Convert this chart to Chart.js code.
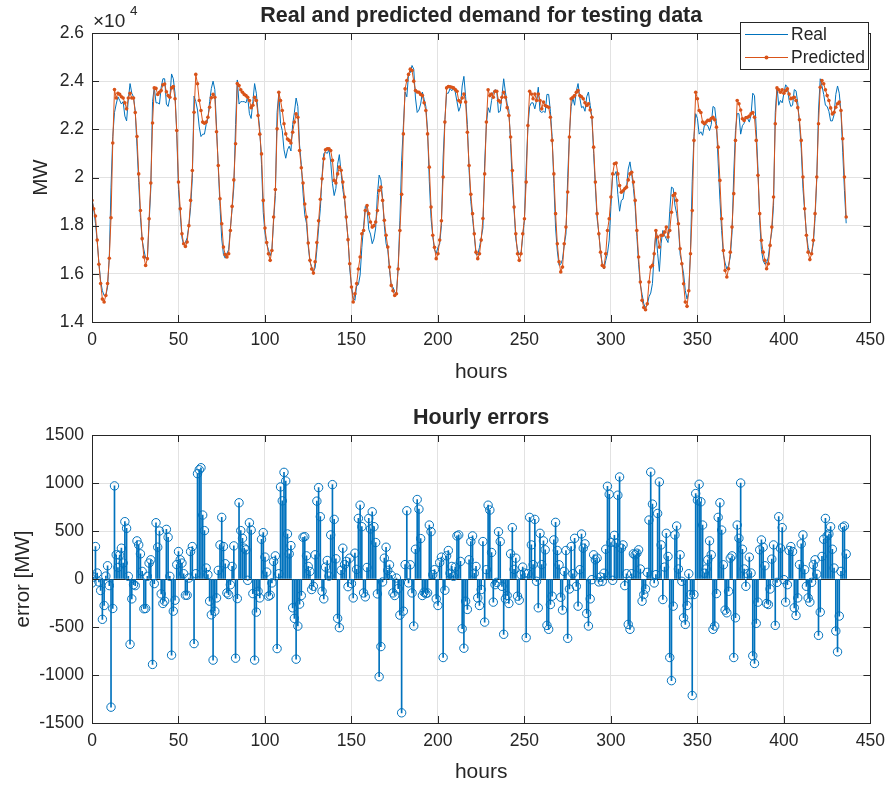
<!DOCTYPE html>
<html>
<head>
<meta charset="utf-8">
<script src="https://cdn.jsdelivr.net/npm/chart.js@4.4.0/dist/chart.umd.min.js"></script>
<style>
  html, body { margin: 0; padding: 0; background: #fff; }
  #wrap { position: relative; width: 893px; height: 785px; }
  canvas { position: absolute; left: 0; top: 0; }
</style>
</head>
<body>
<div id="wrap">
  <canvas id="demandChart" width="893" height="785"></canvas>
  <canvas id="errorChart" width="893" height="785"></canvas>
</div>
<script>
// ======= Data (MW, one value per hour) =======
const realDemand = [
  19100,18700,18100,17350,16450,15700,15300,15100,15100,15450,16700,19600,21700,22700,23050,23350,23200,23050,23150,22550,22350,23250,23900,23500,
  23350,22750,21300,19800,18350,17400,17000,16650,16600,18100,19550,23150,23750,23100,23100,23050,23750,24100,24100,23050,22950,23300,24300,24100,
  23500,21800,19500,18500,17500,17200,17300,17500,18000,18750,19950,23380,23150,22800,22100,21700,21800,21800,22200,22450,23150,23700,24000,23650,
  22100,20400,18800,17450,16800,16650,16850,17000,17900,18700,19600,22200,24050,23050,23150,23150,23150,23100,23350,22650,22450,23150,23900,23500,
  22700,22000,20550,18550,17700,17250,17000,16750,17000,18200,19250,22700,23500,22250,21950,21150,20800,21150,21300,21100,22200,22700,23300,22950,
  21350,20550,19350,18450,18100,17150,16500,16300,16100,16250,17000,17900,18700,20050,21000,21050,21000,21150,20650,19750,19250,19550,20550,20950,
  20200,19500,19050,18200,17500,16200,15500,15000,14900,15500,15550,15950,17100,17950,18800,18700,17850,17650,17250,17450,17900,19300,20100,19900,
  19100,18000,17250,17000,16150,15500,15450,15250,15150,16300,18200,20700,22150,23550,23350,24300,24350,24650,24500,23300,22700,22800,23050,23550,
  23250,22950,21950,19850,18300,17550,17000,16850,17100,17250,18000,20850,22400,23500,23500,23700,23600,23700,23550,23150,22750,22950,23800,24200,
  23350,22200,20300,19000,18300,17600,16800,16800,17100,17500,17900,20600,22200,22900,22700,23200,23550,23650,23600,22700,22750,23400,24100,23550,
  23050,22800,21400,19750,18650,17450,17000,16800,16800,17550,18250,20400,22100,22950,23100,23100,22850,23200,23750,22750,22700,22750,22700,23450,
  23450,22750,21700,19750,17900,16950,16350,16400,16600,17200,17650,20000,21800,22950,23300,23000,23600,23900,23300,22900,22950,22750,23350,23550,
  23000,22500,21000,19600,18300,17700,16900,16400,16200,16550,16850,17400,18800,20150,20100,20250,19300,18600,19050,19100,19600,19550,20350,20650,
  20150,19550,18800,17550,16400,15550,15150,14750,14600,14700,15050,15200,15600,16850,17750,16850,16100,17250,17800,17600,17450,17300,18600,19600,
  19550,18850,18500,18000,16800,16450,16000,15300,14950,15250,17000,19850,21700,22650,22450,21800,21900,21750,22150,22200,22150,21950,22200,22950,
  22900,22250,20600,19100,17800,16800,16450,16200,16350,16700,17700,20150,21950,22650,22650,21800,22150,22250,22550,22450,22300,22600,23500,23400,
  22000,20350,18200,17000,16550,16400,16450,16700,17300,17750,18850,22700,23750,23000,23200,23100,23500,23850,23750,23200,22950,23000,23650,23600,
  23100,22250,21200,19550,18600,17700,17100,16850,16850,17250,18300,19950,22800,24100,23800,23450,23000,22950,22750,22350,22350,22600,23450,23800,
  23500,22700,21050,19450,18100
];

const predictedDemand = [
  19050,18700,18400,17400,16400,15600,14950,14830,15100,15600,16650,18330,21430,23650,23300,23500,23450,23350,23300,23100,22850,23300,23500,23300,
  23300,22700,21700,20150,18630,17460,16700,16350,16630,18290,19770,22260,23720,23700,23450,23540,23610,23850,23880,23560,23400,23330,23720,23780,
  23270,21950,19810,18700,17660,17250,17140,17320,18000,19050,20290,22710,24280,23890,23200,22780,22300,22250,22300,22500,22920,23310,23450,23330,
  21900,20500,19120,18080,17110,16800,16700,16835,17800,18800,19900,21400,23900,23820,23640,23540,23450,23400,23330,23200,22900,23000,23330,23200,
  22575,21800,20980,19050,17900,17300,16835,16560,16970,18360,19500,22020,23540,23200,22780,22230,21810,21600,21540,21430,21880,22300,22640,22500,
  21120,20400,19770,18900,18360,17280,16560,16200,16030,16500,17300,18200,19100,19950,20780,21150,21190,21190,21120,20710,19880,19770,20150,20430,
  20300,19810,19190,18360,17420,16420,15450,14830,15175,15600,16200,16700,17660,17800,18630,18840,18500,18150,17940,18000,18150,18630,19460,19600,
  19050,18220,17600,17110,16280,15520,15300,15100,15175,16200,17800,19300,21810,23680,24030,24280,24500,24440,24000,23610,23550,23540,23450,23400,
  23100,22780,21810,20430,18770,17600,17100,16630,16835,17400,18200,20020,22300,23720,23780,23770,23750,23720,23650,23580,23200,23130,23300,23470,
  23130,21880,20500,19300,18500,17660,16900,16630,16835,17400,18300,20150,22300,23640,23400,23470,23330,23580,23580,23200,23130,23330,23540,23330,
  22900,22575,21680,20290,18770,17660,16835,16560,16835,17660,18290,19810,22160,23580,23470,23270,23470,23200,23470,23200,22850,23130,22990,22950,
  22920,22500,21540,20150,18500,17250,16500,16080,16280,17250,17940,19400,21680,23270,23330,23400,23540,23610,23400,23350,23270,23100,22990,23060,
  22800,22500,21260,19810,18500,17660,16900,16350,16280,16835,17800,18290,19190,20150,20570,20600,20150,19670,19390,19450,19530,19600,19900,20150,
  20220,19810,19050,17800,16700,15660,14900,14600,14510,14760,15660,16280,16350,16835,17800,17530,17110,17600,17600,17730,17940,17530,17800,18560,
  19250,19330,19050,18080,17040,16420,15590,14830,14650,15300,16835,18630,21540,23540,23270,22780,22700,22300,22230,22300,22370,22370,22450,22500,
  22400,22090,21260,19880,18290,16970,16140,15870,16210,16900,17940,19330,21540,23200,23060,22800,22440,22370,22480,22500,22550,22650,22700,22500,
  21540,20090,18500,17390,16900,16560,16210,16420,17180,17940,19190,22230,23720,23640,23540,23640,23500,23600,23680,23470,23270,23300,23330,23200,
  22900,22400,21540,20020,18700,17600,16900,16590,16835,17390,18500,20020,22230,23750,24030,23890,23640,23400,23200,22890,22640,22710,22920,23060,
  23130,22780,21610,20020,18360
];

const hourlyErrors = [
  -41, 20, 338, 62, -30, -120, -420, -276, 30, 138,
  -69, -1335, -307, 970, 252, 120, 248, 321, 166, 597,
  528, 28, -680, -207, -59, -69, 397, 355, 262, 79,
  -310, -307, 28, 166, 200, -890, -48, 586, 331, 500,
  -155, -255, -231, 517, 435, 28, -793, -335, -221, 150,
  286, 200, 166, 55, -169, -169, 10, 286, 338, -673,
  55, 1097, 1138, 1159, 666, 504, 114, 45, -231, -373,
  -845, -335, -197, 90, 355, 642, 338, 159, -145, -162,
  -60, 131, 345, -825, -204, 794, 504, 424, 321, 304,
  -14, 586, 510, -152, -845, -345, -128, -197, 414, 483,
  228, 72, -179, -169, -41, 183, 241, -725, 55, 959,
  814, 1111, 1021, 469, 262, 348, -300, -410, -835, -490,
  -262, -172, 435, 441, 241, 131, 79, -110, -76, 252,
  811, 952, 649, -128, -207, 124, 193, 30, 459, 983,
  621, 210, -410, -507, 90, 321, 150, 183, -80, 217,
  -48, -197, 269, 100, 631, 769, 545, -145, -186, 120,
  631, 521, 700, 545, 380, -155, -1018, -704, -31, 217,
  331, 90, 148, 38, -145, -172, 10, -100, -376, -1394,
  -335, 150, 711, -41, 148, -145, -490, 310, 828, 728,
  421, -172, -138, -152, -145, 562, 493, 45, 97, -207,
  -276, 172, 228, -818, -117, 241, 297, 60, 131, 28,
  124, 449, 459, 183, -518, -721, -231, -317, 200, 390,
  449, 60, 131, -197, -276, -110, 390, -449, 97, 769,
  718, 276, -241, -59, -35, 493, 390, -76, -576, -207,
  -172, -255, 262, 535, 100, 217, -179, -221, 45, 124,
  62, -611, 55, 642, 355, 150, 621, -24, -300, 476,
  150, 397, 304, -483, -524, -266, -179, 407, 590, 297,
  148, -190, -324, 79, 297, -618, -104, 338, 55, 424,
  -76, -283, 97, 469, 321, 366, -359, -490, -207, -7,
  252, 200, 217, -30, 20, -25, 60, 310, 966, 883,
  380, -14, 455, 373, 873, 1063, 321, 355, -69, 55,
  -473, -524, 55, 262, 252, 269, 304, 104, -231, -162,
  -104, 69, 614, 1114, 780, -41, 45, 683, 1011, 355,
  -214, 124, 476, 235, -818, -1059, -283, 459, 552, 104,
  252, -24, -404, -473, -276, 55, -162, -1214, -162, 890,
  821, 987, 804, 562, 60, 104, 200, 397, 252, -524,
  -490, -152, 642, 794, 510, 148, -324, -352, -128, 217,
  241, -818, -404, 562, 424, 1000, 310, 104, -76, 55,
  228, 62, -800, -880, -462, -241, 304, 407, 331, 138,
  -255, -266, -104, 207, 355, -483, -35, 649, 321, 535,
  -7, -241, -59, 297, 338, 286, -300, -380, -197, 150,
  366, 459, 97, -76, -197, -241, -35, 148, 200, 50,
  -587, -345, 235, 414, 631, 449, 469, 545, 310, 114,
  -542, -759, -386, 79, 538, 552, 260
];

// hour index of every sample (0 .. 436)
const hours = realDemand.map((_, i) => i);

// ======= Tick positions =======
const hourTicks = [0, 50, 100, 150, 200, 250, 300, 350, 400, 450];
const demandTicks = [14000, 16000, 18000, 20000, 22000, 24000, 26000];
const errorTicks = [-1500, -1000, -500, 0, 500, 1000, 1500];

// ======= Look =======
const INK = '#262626';
const GRID = '#e2e2e2';
const BLUE = '#0072BD';
const ORANGE = '#D95319';
const FONT = '"Liberation Sans", Arial, Helvetica, sans-serif';
const TICK_FONT = { family: FONT, size: 17.5 };

function drawText(ctx, str, x, y, size, opts = {}) {
    ctx.save();
    ctx.fillStyle = INK;
    ctx.font = `${opts.bold ? 'bold ' : ''}${size}px ${FONT}`;
    ctx.textAlign = opts.align || 'center';
    ctx.textBaseline = opts.baseline || 'middle';
    ctx.translate(x, y);
    if (opts.rotate) ctx.rotate(opts.rotate);
    ctx.fillText(str, 0, 0);
    ctx.restore();
}

// ======= MATLAB-like axes: box, inward ticks, title and labels =======
function axesDecor(cfg) {
    return {
        id: 'axesDecor',
        afterDraw(chart) {
            const { ctx, chartArea: a, scales } = chart;
            const tl = 7;
            ctx.save();
            ctx.strokeStyle = INK;
            ctx.lineWidth = 1;
            ctx.beginPath();
            scales.x.ticks.forEach(t => {
                const px = Math.round(scales.x.getPixelForValue(t.value)) + 0.5;
                ctx.moveTo(px, a.bottom); ctx.lineTo(px, a.bottom - tl);
                ctx.moveTo(px, a.top); ctx.lineTo(px, a.top + tl);
            });
            scales.y.ticks.forEach(t => {
                const py = Math.round(scales.y.getPixelForValue(t.value)) + 0.5;
                ctx.moveTo(a.left, py); ctx.lineTo(a.left + tl, py);
                ctx.moveTo(a.right, py); ctx.lineTo(a.right - tl, py);
            });
            ctx.stroke();
            ctx.strokeRect(Math.round(a.left) + 0.5, Math.round(a.top) + 0.5,
                Math.round(a.right - a.left), Math.round(a.bottom - a.top));
            ctx.restore();

            const cx = (a.left + a.right) / 2;
            drawText(ctx, cfg.title, cx, cfg.titleY, cfg.titleSize, { bold: true });
            drawText(ctx, cfg.xLabel, cx, cfg.xLabelY, 21);
            drawText(ctx, cfg.yLabel, cfg.yLabelX, (a.top + a.bottom) / 2, 20.5, { rotate: -Math.PI / 2 });
            if (cfg.extra) cfg.extra(ctx);
        }
    };
}

// ======= Exponent note and legend of the demand plot =======
function demandExtras(ctx) {
    drawText(ctx, '\u00d710', 93, 27, 19, { align: 'left', baseline: 'alphabetic' });
    drawText(ctx, '4', 130, 15, 13.5, { align: 'left', baseline: 'alphabetic' });

    ctx.save();
    ctx.fillStyle = '#fff';
    ctx.fillRect(740, 22, 128, 47);
    ctx.strokeStyle = INK;
    ctx.lineWidth = 1;
    ctx.strokeRect(740.5, 22.5, 128, 47);
    ctx.lineWidth = 1.2;
    ctx.strokeStyle = BLUE;
    ctx.beginPath(); ctx.moveTo(745, 34.5); ctx.lineTo(788, 34.5); ctx.stroke();
    ctx.strokeStyle = ORANGE;
    ctx.beginPath(); ctx.moveTo(745, 57.5); ctx.lineTo(788, 57.5); ctx.stroke();
    ctx.fillStyle = ORANGE;
    ctx.beginPath(); ctx.arc(766.5, 57.5, 2, 0, Math.PI * 2); ctx.fill();
    ctx.restore();
    drawText(ctx, 'Real', 791, 35, 17.5, { align: 'left' });
    drawText(ctx, 'Predicted', 791, 58, 17.5, { align: 'left' });
}

function xScale(height) {
    return {
        type: 'linear', min: 0, max: 450, offset: false,
        afterBuildTicks: s => { s.ticks = hourTicks.map(v => ({ value: v })); },
        ticks: { autoSkip: false, maxRotation: 0, padding: 8, color: INK, font: TICK_FONT },
        grid: { color: GRID, drawTicks: false, offset: false },
        border: { display: false },
        afterFit: s => { s.height = height; }
    };
}

function yScale(min, max, tickValues, fmt) {
    return {
        type: 'linear', min: min, max: max,
        afterBuildTicks: s => { s.ticks = tickValues.map(v => ({ value: v })); },
        ticks: { padding: 8, color: INK, font: TICK_FONT, callback: fmt },
        grid: {
            drawTicks: false,
            color: c => (min < 0 && c.tick && c.tick.value === 0) ? INK : GRID
        },
        border: { display: false },
        afterFit: s => { s.width = 92; }
    };
}

// ======= Top: real and predicted demand =======
new Chart(document.getElementById('demandChart'), {
    type: 'line',
    data: {
        datasets: [
            {
                label: 'Predicted',
                data: hours.map((h, i) => ({ x: h, y: predictedDemand[i] })),
                borderColor: ORANGE, borderWidth: 1,
                pointRadius: 1.8, pointBackgroundColor: ORANGE, pointBorderWidth: 0,
                order: 0
            },
            {
                label: 'Real',
                data: hours.map((h, i) => ({ x: h, y: realDemand[i] })),
                borderColor: BLUE, borderWidth: 1, pointRadius: 0,
                order: 1
            }
        ]
    },
    options: {
        responsive: false, animation: false, devicePixelRatio: 1, events: [],
        layout: { padding: { top: 33, right: 20, left: 0, bottom: 0 } },
        plugins: { legend: { display: false }, tooltip: { enabled: false } },
        scales: {
            x: xScale(785 - 322),
            y: yScale(14000, 26000, demandTicks, v => String(+(v / 10000).toFixed(1)))
        }
    },
    plugins: [axesDecor({
        title: 'Real and predicted demand for testing data', titleY: 16, titleSize: 21.5,
        xLabel: 'hours', xLabelY: 372,
        yLabel: 'MW', yLabelX: 41,
        extra: demandExtras
    })]
});

// ======= Bottom: hourly errors as a stem plot =======
new Chart(document.getElementById('errorChart'), {
    type: 'bar',
    data: {
        datasets: [
            {
                type: 'scatter',
                label: 'markers',
                data: hours.map((h, i) => ({ x: h, y: hourlyErrors[i] })),
                showLine: false, pointStyle: 'circle', pointRadius: 4.2,
                pointBorderWidth: 1, borderColor: BLUE, backgroundColor: 'rgba(0,0,0,0)',
                order: 0
            },
            {
                type: 'bar',
                label: 'stems',
                data: hours.map((h, i) => ({ x: h, y: hourlyErrors[i] })),
                backgroundColor: BLUE, barThickness: 1, borderWidth: 0,
                order: 1
            }
        ]
    },
    options: {
        responsive: false, animation: false, devicePixelRatio: 1, events: [],
        layout: { padding: { top: 435, right: 20, left: 0, bottom: 0 } },
        plugins: { legend: { display: false }, tooltip: { enabled: false } },
        scales: {
            x: xScale(785 - 723),
            y: yScale(-1500, 1500, errorTicks, v => String(v))
        }
    },
    plugins: [axesDecor({
        title: 'Hourly errors', titleY: 418, titleSize: 21.5,
        xLabel: 'hours', xLabelY: 772,
        yLabel: 'error [MW]', yLabelX: 23
    })]
});
</script>
</body>
</html>
